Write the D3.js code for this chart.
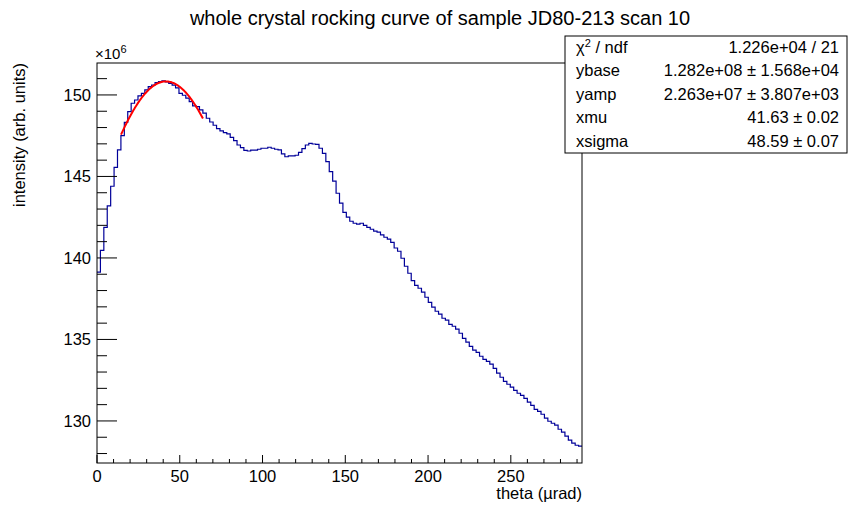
<!DOCTYPE html>
<html><head><meta charset="utf-8">
<script src="https://cdn.jsdelivr.net/npm/d3@7"></script>
<style>body{margin:0;background:#fff;font-family:"Liberation Sans",Arial,sans-serif}</style>
</head><body><div id="chart"></div>
<script>
// histogram contents (units of 1e6), bins span 0..xMax
var xMax = 293;
var counts = [139.13,140.47,141.88,143.19,144.4,145.56,146.63,147.5,148.32,148.98,
  149.49,149.69,149.94,150.1,150.31,150.51,150.61,150.75,150.82,150.86,
  150.8,150.71,150.6,150.43,150.1,149.98,149.8,149.59,149.33,149.28,
  149.08,148.88,148.57,148.34,148.14,147.93,147.79,147.69,147.61,147.4,
  147.2,146.93,146.77,146.6,146.56,
  146.61,146.61,146.67,146.73,146.73,146.79,146.73,146.67,146.63,146.38,
  146.21,146.26,146.26,146.3,146.48,146.71,146.93,147.03,146.99,146.97,
  146.73,146.42,145.91,145.3,144.71,143.97,143.36,142.8,142.5,142.25,
  142.13,142.07,142.13,142.0,141.88,141.76,141.64,141.58,141.41,141.27,
  141.15,140.96,140.61,140.41,139.98,139.49,139.06,138.61,138.32,138.14,
  137.9,137.59,137.28,136.98,136.73,136.55,136.3,136.18,135.93,135.81,
  135.63,135.38,135.07,134.83,134.58,134.34,134.21,133.97,133.78,133.66,
  133.48,133.23,132.93,132.68,132.43,132.25,132.07,131.88,131.7,131.57,
  131.39,131.15,130.96,130.71,130.59,130.41,130.17,129.98,129.86,129.74,
  129.49,129.31,129.07,128.82,128.64,128.51,128.45];
// fit parameters
var fitPar = {ybase: 128.2, yamp: 22.63, xmu: 41.63, xsigma: 48.59};
var fitRange = [14.5, 64];
var statNames = ["\u03c7\u00b2 / ndf", "ybase", "yamp", "xmu", "xsigma"];
var statVals = ["1.226e+04 / 21", "1.282e+08 \u00b1 1.568e+04", "2.263e+07 \u00b1 3.807e+03", "41.63 \u00b1 0.02", "48.59 \u00b1 0.07"];

var W = 862, H = 516;
var L = 97, R = 582, T = 63, B = 463;
var svg = d3.select('#chart').append('svg').attr('width', W).attr('height', H);
var x = d3.scaleLinear().domain([0, xMax]).range([L, R]);
var y = d3.scaleLinear().domain([127.42, 151.96]).range([B, T]);
var bw = xMax / counts.length;

// histogram step line
var pts = [];
counts.forEach(function(c, i) {
  pts.push([x(i * bw), y(c)]);
  pts.push([x((i + 1) * bw), y(c)]);
});
svg.append('path').attr('d', d3.line()(pts)).attr('fill', 'none')
  .attr('stroke', '#000099').attr('stroke-width', 1.2);

// fit curve
var fx = d3.range(fitRange[0], fitRange[1] + 0.01, 0.5);
svg.append('path').attr('d', d3.line()
    .x(function(d) { return x(d); })
    .y(function(d) { return y(fitPar.ybase + fitPar.yamp * Math.exp(-0.5 * Math.pow((d - fitPar.xmu) / fitPar.xsigma, 2))); })(fx))
  .attr('fill', 'none').attr('stroke', '#ff0000').attr('stroke-width', 2);

// frame
svg.append('rect').attr('x', L).attr('y', T).attr('width', R - L).attr('height', B - T)
  .attr('fill', 'none').attr('stroke', '#000');

// x ticks
d3.range(0, xMax, 10).forEach(function(v) {
  var major = v % 50 === 0;
  svg.append('line').attr('x1', x(v)).attr('x2', x(v)).attr('y1', B).attr('y2', B - (major ? 8 : 4)).attr('stroke', '#000');
  if (major) svg.append('text').attr('x', x(v)).attr('y', B + 19).attr('text-anchor', 'middle')
    .attr('font-size', 16.5).text(v);
});
// y ticks
d3.range(128, 152, 1).forEach(function(v) {
  var major = v % 5 === 0;
  svg.append('line').attr('x1', L).attr('x2', L + (major ? 20 : 10)).attr('y1', y(v)).attr('y2', y(v)).attr('stroke', '#000');
  if (major) svg.append('text').attr('x', L - 6).attr('y', y(v) + 6).attr('text-anchor', 'end')
    .attr('font-size', 16.5).text(v);
});

svg.append('text').attr('x', 95).attr('y', 59).attr('font-size', 15).html('\u00d710<tspan dy="-6" font-size="11">6</tspan>');
svg.append('text').attr('x', 440).attr('y', 25).attr('text-anchor', 'middle').attr('font-size', 20)
  .text('whole crystal rocking curve of sample JD80-213 scan 10');
svg.append('text').attr('x', R).attr('y', 499).attr('text-anchor', 'end').attr('font-size', 16.5).text('theta (\u00b5rad)');
svg.append('text').attr('transform', 'translate(25,' + T + ') rotate(-90)').attr('text-anchor', 'end')
  .attr('font-size', 16.5).text('intensity (arb. units)');

// stats box
var sx = 565, sy = 36, sw = 282, rh = 23.4;
svg.append('rect').attr('x', sx).attr('y', sy).attr('width', sw).attr('height', rh * 5)
  .attr('fill', '#fff').attr('stroke', '#000');
statNames.forEach(function(n, i) {
  var ty = sy + rh * i + 17;
  var t = svg.append('text').attr('x', sx + 11).attr('y', ty).attr('font-size', 16.5);
  if (i === 0) t.html('\u03c7<tspan dy="-6" font-size="11">2</tspan><tspan dy="6"> / ndf</tspan>');
  else t.text(n);
  svg.append('text').attr('x', sx + sw - 8).attr('y', ty).attr('text-anchor', 'end').attr('font-size', 16.5).text(statVals[i]);
});
</script></body></html>
